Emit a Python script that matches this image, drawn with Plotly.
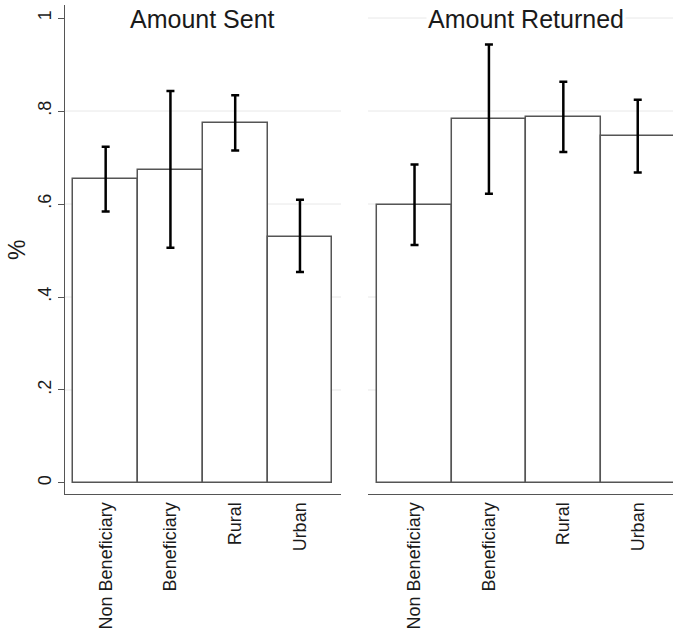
import plotly.graph_objects as go
from plotly.subplots import make_subplots

# Groups and estimates with 95% confidence bounds
groups = ["Non Beneficiary", "Beneficiary", "Rural", "Urban"]

sent_mean = [0.653, 0.673, 0.774, 0.530]
sent_upper = [0.723, 0.843, 0.834, 0.609]
sent_lower = [0.584, 0.506, 0.715, 0.454]

returned_mean = [0.598, 0.782, 0.787, 0.746]
returned_upper = [0.685, 0.943, 0.863, 0.824]
returned_lower = [0.512, 0.622, 0.712, 0.668]

panel_titles = ["Amount Sent", "Amount Returned"]
y_ticks = [0, 0.2, 0.4, 0.6, 0.8, 1]
y_tick_text = ["0", ".2", ".4", ".6", ".8", "1"]
grid_left = [0.2, 0.4, 0.6, 0.8]
grid_right = [0.2, 0.4, 0.6, 0.8, 1.0]

FONT = "Liberation Sans, Arial, sans-serif"
positions = list(range(1, len(groups) + 1))

fig = make_subplots(rows=1, cols=2, shared_yaxes=False, horizontal_spacing=0)


def add_panel(col, mean, upper, lower):
    fig.add_trace(
        go.Bar(
            x=positions,
            y=mean,
            width=1,
            marker=dict(color="white", line=dict(color="#555555", width=1.5)),
            error_y=dict(
                type="data",
                symmetric=False,
                array=[u - m for u, m in zip(upper, mean)],
                arrayminus=[m - l for m, l in zip(mean, lower)],
                color="black",
                thickness=2.5,
                width=4,
            ),
            showlegend=False,
            cliponaxis=True,
        ),
        row=1,
        col=col,
    )


add_panel(1, sent_mean, sent_upper, sent_lower)
add_panel(2, returned_mean, returned_upper, returned_lower)

y_range = [-0.0237, 1.028]

fig.update_layout(
    width=673,
    height=630,
    margin=dict(l=65, r=0, t=5, b=136),
    paper_bgcolor="white",
    plot_bgcolor="white",
    font=dict(family=FONT, color="#1a1a1a"),
    bargap=0,
    xaxis=dict(
        domain=[0, 0.454],
        range=[0.372, 4.634],
        tickvals=positions,
        ticktext=groups,
        tickangle=-90,
        tickfont=dict(size=18),
        showgrid=False,
        zeroline=False,
        showline=True,
        linecolor="#555555",
        linewidth=1.3,
        ticks="",
    ),
    xaxis2=dict(
        domain=[0.4984, 1],
        range=[0.375, 4.474],
        tickvals=positions,
        ticktext=groups,
        tickangle=-90,
        tickfont=dict(size=18),
        showgrid=False,
        zeroline=False,
        showline=True,
        linecolor="#555555",
        linewidth=1.3,
        ticks="",
    ),
    yaxis=dict(
        range=y_range,
        tickvals=y_ticks,
        ticktext=y_tick_text,
        tickangle=-90,
        tickfont=dict(size=18),
        ticks="outside",
        ticklen=6,
        tickcolor="#555555",
        showgrid=False,
        zeroline=False,
        showline=True,
        linecolor="#555555",
        linewidth=1.3,
    ),
    yaxis2=dict(
        range=y_range,
        showticklabels=False,
        showgrid=False,
        zeroline=False,
        showline=False,
        ticks="",
    ),
)

# Light horizontal reference lines behind the bars
for xref, yref, levels in (("x domain", "y", grid_left), ("x2 domain", "y2", grid_right)):
    for level in levels:
        fig.add_shape(
            type="line",
            xref=xref,
            yref=yref,
            x0=0,
            x1=1,
            y0=level,
            y1=level,
            line=dict(color="#e8e8e8", width=1),
            layer="below",
        )

# Panel headings
for xref, yref, title in (("x", "y", panel_titles[0]), ("x2", "y2", panel_titles[1])):
    fig.add_annotation(
        x=2.5,
        y=0.997,
        xref=xref,
        yref=yref,
        text=title,
        showarrow=False,
        font=dict(size=25, color="#1a1a1a"),
        bgcolor="white",
        xanchor="center",
        yanchor="middle",
    )

# Vertical axis title
fig.add_annotation(
    x=-0.0798,
    y=0.5,
    xref="paper",
    yref="paper",
    text="%",
    textangle=-90,
    showarrow=False,
    font=dict(size=23, color="#1a1a1a"),
    xanchor="center",
    yanchor="middle",
)

fig.write_html("out.html")
